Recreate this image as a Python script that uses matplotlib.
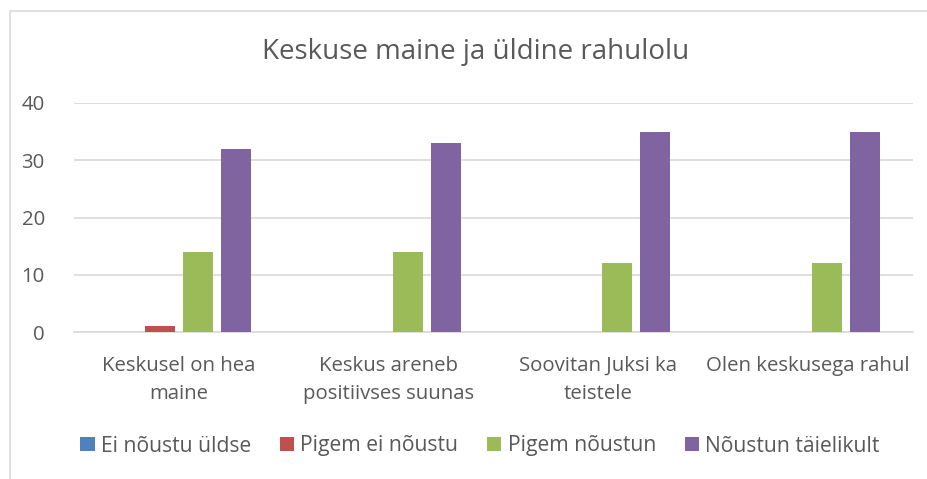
import numpy as np
import matplotlib
matplotlib.use("Agg")
import matplotlib.pyplot as plt
from matplotlib.patches import Rectangle

plt.rcParams['font.family'] = ['Open Sans', 'DejaVu Sans']

# andmed
kategooriad = ["Keskusel on hea\nmaine", "Keskus areneb\npositiivses suunas",
               "Soovitan Juksi ka\nteistele", "Olen keskusega rahul"]
seeriad = ["Ei nõustu üldse", "Pigem ei nõustu", "Pigem nõustun", "Nõustun täielikult"]
ei_noustu = [0, 0, 0, 0]
pigem_ei = [1, 0, 0, 0]
pigem_jah = [14, 14, 12, 12]
taielikult = [32, 33, 35, 35]
varvid = ["#4F81BD", "#C0504D", "#9BBB59", "#8064A2"]

vaartused = [ei_noustu, pigem_ei, pigem_jah, taielikult]
gray = "#595959"
fs = 14.7

fig = plt.figure(figsize=(9.28, 4.79), dpi=100)
ax = fig.add_axes([74/928, 1-332/479, (913-74)/928, (332-103)/479])

x = np.arange(len(kategooriad))
w = 0.143
step = 0.181
for i, (nimi, v) in enumerate(zip(seeriad, vaartused)):
    ax.bar(x + (i-1.5)*step, v, width=w, color=varvid[i], label=nimi, zorder=3)

ax.set_xlim(-0.5, 3.5)
ax.set_ylim(0, 40)
ax.set_yticks([0, 10, 20, 30, 40])
ax.grid(axis='y', color='#d9d9d9', linewidth=1.2, zorder=0)
for s in ['top', 'right', 'left']:
    ax.spines[s].set_visible(False)
ax.spines['bottom'].set_color('#d9d9d9')
ax.spines['bottom'].set_linewidth(1.2)
ax.set_xticks(x)
ax.set_xticklabels(kategooriad, fontsize=fs, color=gray, linespacing=1.55)
ax.tick_params(axis='both', length=0, labelsize=fs, colors=gray)
ax.tick_params(axis='y', pad=21)
ax.tick_params(axis='x', pad=17)

fig.text(476/928, 1-52/479, "Keskuse maine ja üldine rahulolu", ha='center', va='center',
         fontsize=20, color=gray)

fig.legend(loc='center', bbox_to_anchor=(480/928, 1-446/479), ncol=4, frameon=False,
           fontsize=15.2, labelcolor=gray, handlelength=0.68, handleheight=0.68,
           handletextpad=0.3, columnspacing=1.35)

fig.add_artist(Rectangle((10/928, -0.1), 1.2, 1-11/479+0.1, transform=fig.transFigure,
                         fill=False, edgecolor='#d9d9d9', linewidth=1.2))

fig.savefig("out.png", dpi=100)
